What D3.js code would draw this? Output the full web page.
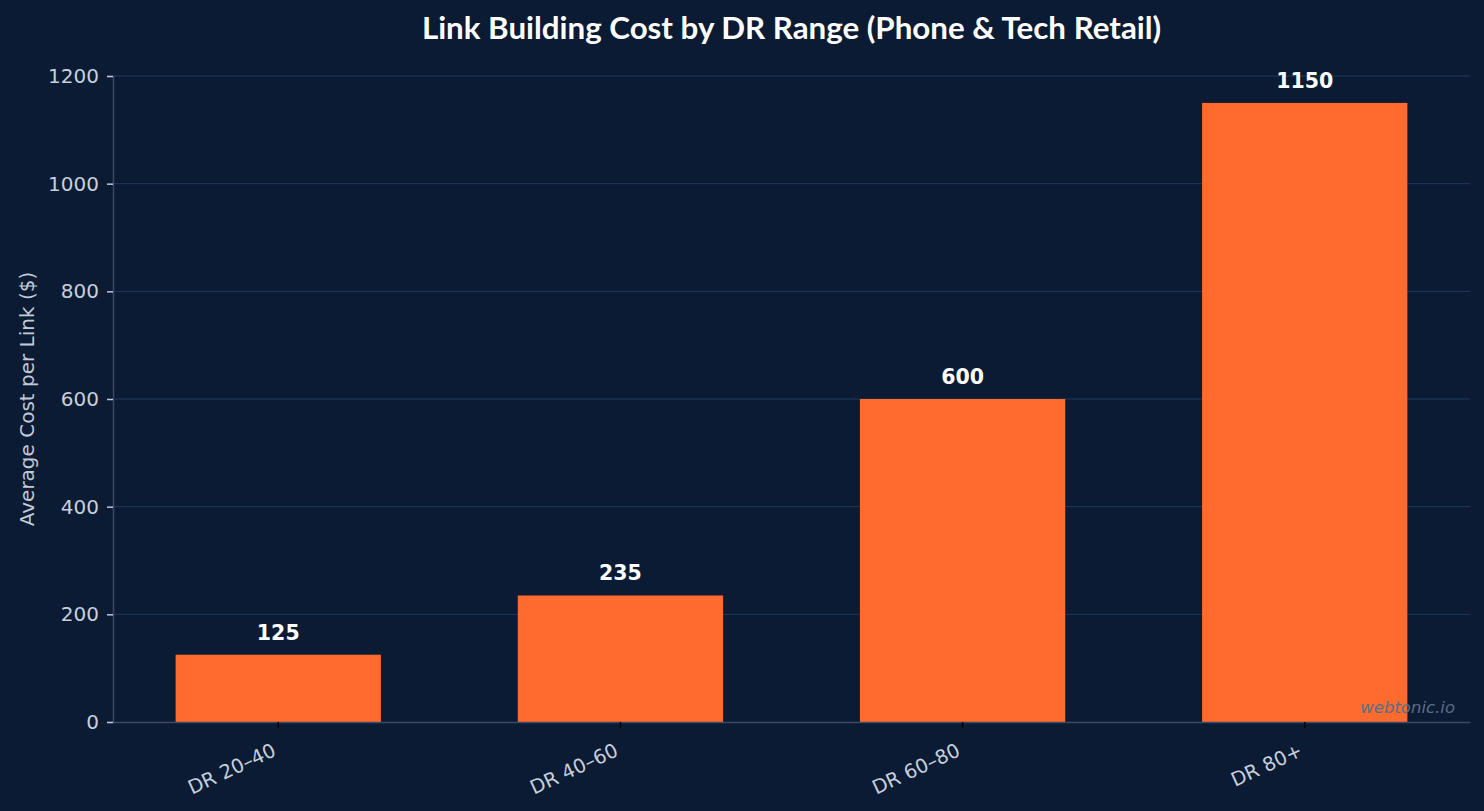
<!DOCTYPE html>
<html>
<head>
<meta charset="utf-8">
<script src="https://cdn.jsdelivr.net/npm/d3@7"></script>
<style>
  html, body { margin: 0; padding: 0; background: #0b1b33; }
  svg { display: block; }
</style>
</head>
<body>
<svg id="chart" width="1484" height="811"></svg>
<script>
const categories = ["DR 20\u201340", "DR 40\u201360", "DR 60\u201380", "DR 80+"];
const costs = [125, 235, 600, 1150];
const yTicks = [0, 200, 400, 600, 800, 1000, 1200];
const titleText = "Link Building Cost by DR Range (Phone & Tech Retail)";
const yLabelText = "Average Cost per Link ($)";
const watermark = "webtonic.io";

const W = 1484, H = 811;
const margin = { left: 113, right: 14, top: 76, bottom: 89 };
const svg = d3.select("#chart");
svg.append("rect").attr("width", W).attr("height", H).attr("fill", "#0b1b33");

const x = d3.scaleBand().domain(categories)
  .range([margin.left, W - margin.right])
  .paddingInner(0.4).paddingOuter(0.183);
const y = d3.scaleLinear().domain([0, 1200]).range([H - margin.bottom, margin.top]);

// gridlines
svg.append("g").selectAll("line").data(yTicks.filter(d => d > 0)).join("line")
  .attr("x1", margin.left).attr("x2", W - margin.right)
  .attr("y1", d => y(d)).attr("y2", d => y(d))
  .attr("stroke", "#1e3a5f").attr("stroke-width", 1);

// bars
svg.append("g").selectAll("rect").data(costs).join("rect")
  .attr("x", (d, i) => x(categories[i]))
  .attr("width", x.bandwidth())
  .attr("y", d => y(d))
  .attr("height", d => y(0) - y(d))
  .attr("fill", "#ff6b2f");

// value labels
svg.append("g").selectAll("text").data(costs).join("text")
  .attr("x", (d, i) => x(categories[i]) + x.bandwidth() / 2)
  .attr("y", d => y(d) - 15)
  .attr("text-anchor", "middle")
  .attr("font-family", "DejaVu Sans")
  .attr("font-weight", "bold")
  .attr("font-size", 20.5)
  .attr("fill", "#ffffff")
  .text(d => d);

// y axis
const yAxis = svg.append("g").attr("transform", `translate(${margin.left},0)`)
  .call(d3.axisLeft(y).tickValues(yTicks).tickSize(6).tickPadding(8).tickFormat(d3.format("d")));
yAxis.select(".domain").attr("stroke", "#3a4a62").attr("stroke-width", 1.5);
yAxis.selectAll(".tick line").attr("stroke", "#c0c9d6").attr("stroke-width", 1.5);
yAxis.selectAll(".tick text").attr("fill", "#c6d0dc")
  .attr("font-family", "DejaVu Sans").attr("font-size", 20);

// x axis
const xAxis = svg.append("g").attr("transform", `translate(0,${y(0)})`)
  .call(d3.axisBottom(x).tickSize(6).tickPadding(6).tickSizeOuter(0));
xAxis.select(".domain").attr("stroke", "#3a4a62").attr("stroke-width", 1.5);
xAxis.selectAll(".tick line").attr("stroke", "#000000").attr("stroke-width", 1.5);
xAxis.selectAll(".tick text").attr("fill", "#c6d0dc")
  .attr("font-family", "DejaVu Sans").attr("font-size", 19.5)
  .attr("text-anchor", "end")
  .attr("dy", null)
  .attr("transform", "translate(-1,33) rotate(-25)")
  .attr("y", 0).attr("x", 0);

// title
svg.append("text").attr("x", (margin.left + W - margin.right) / 2).attr("y", 39)
  .attr("text-anchor", "middle").attr("font-family", "Lato").attr("font-weight", "bold")
  .attr("font-size", 31.3).attr("fill", "#ffffff").text(titleText);

// y label
svg.append("text").attr("transform", `translate(34,${(y(0) + y(1200)) / 2}) rotate(-90)`)
  .attr("text-anchor", "middle").attr("font-family", "DejaVu Sans")
  .attr("font-size", 20).attr("fill", "#c0cad8").text(yLabelText);

// watermark
svg.append("text").attr("x", 1455).attr("y", 713).attr("text-anchor", "end")
  .attr("font-family", "DejaVu Sans").attr("font-style", "italic")
  .attr("font-size", 16.5).attr("fill", "#5a6e88").text(watermark);
</script>
</body>
</html>
